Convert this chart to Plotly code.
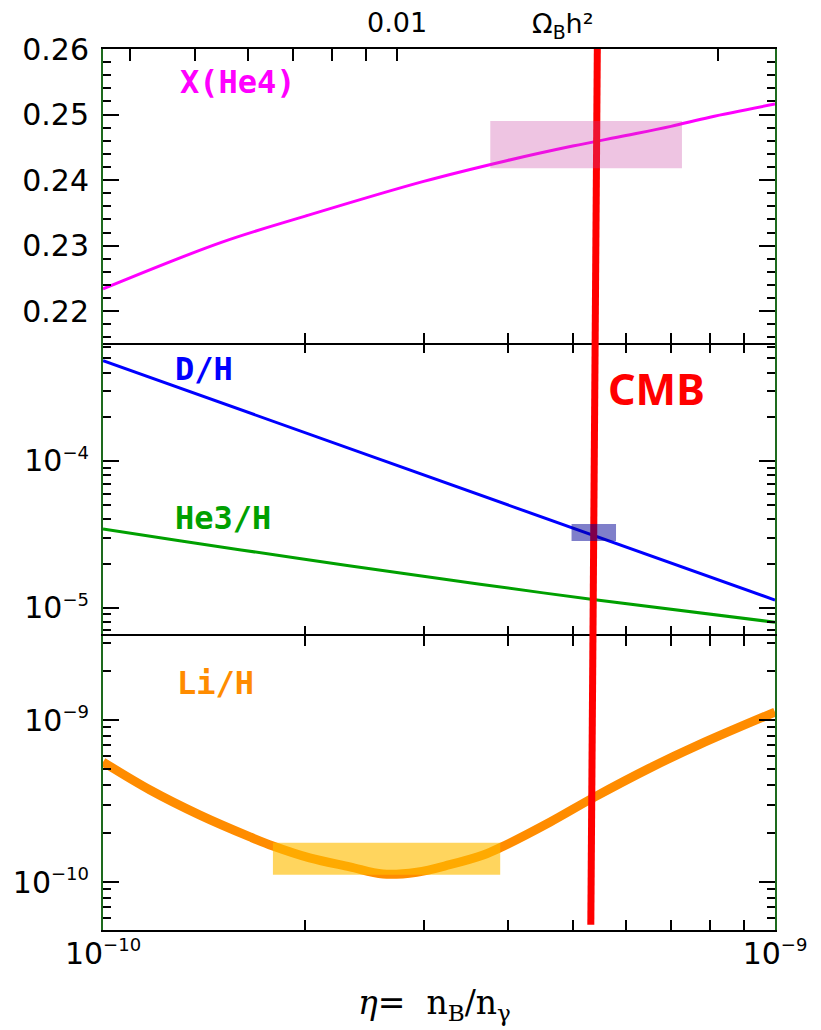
import plotly.graph_objects as go
from plotly.subplots import make_subplots

# ---------------- data (eta in units of 1e-10) ----------------
he4_eta = [1.0, 1.5, 2.0, 3.0, 4.0, 5.0, 6.0, 7.0, 8.0, 10.0]
he4_Y = [0.2234, 0.2305, 0.2345, 0.2398, 0.2430, 0.2452, 0.2468, 0.2482, 0.2496, 0.2516]

dh_eta = [1.0, 2.0, 3.0, 5.0, 7.0, 10.0]
dh_val = [4.82e-4, 1.556e-4, 8.04e-5, 3.49e-5, 2.02e-5, 1.127e-5]

he3_eta = [1.0, 1.30, 1.96, 2.77, 3.64, 5.36, 10.0]
he3_val = [3.44e-5, 2.86e-5, 2.163e-5, 1.722e-5, 1.445e-5, 1.138e-5, 7.96e-6]

li_eta = [1.0, 1.175, 1.394, 1.655, 1.79, 2.03, 2.33, 2.61, 2.93, 3.28, 3.68, 3.90,
          4.63, 5.36, 6.52, 7.74, 10.0]
li_val = [5.51e-10, 3.70e-10, 2.59e-10, 1.90e-10, 1.67e-10, 1.41e-10, 1.24e-10, 1.12e-10,
          1.15e-10, 1.28e-10, 1.47e-10, 1.63e-10, 2.35e-10, 3.31e-10, 5.07e-10, 7.10e-10, 1.12e-9]

# observational boxes
he4_box_eta = [3.77, 7.27]
he4_box_Y = [0.2418, 0.2490]
dh_box_eta = [4.98, 5.80]
dh_box_val = [2.85e-5, 3.72e-5]
li_box_eta = [1.79, 3.90]
li_box_val = [1.11e-10, 1.75e-10]

# CMB line (bottom, top)
cmb_eta = [5.32, 5.44]

# top axis: Omega_B h^2
omega_ticks = [0.004, 0.005, 0.006, 0.007, 0.008, 0.009, 0.01, 0.02, 0.03]
omega_labels = ["", "", "", "", "", "", "0.01", "", ""]
ETA10_PER_OMEGA = 273.9

# tick labels
SUP = "<sup><span style='font-size:18px'>{}</span></sup>"
he4_ticks = [0.22, 0.23, 0.24, 0.25, 0.26]
he4_ticklabels = ["0.22", "0.23", "0.24", "0.25", "0.26"]
mid_ticks = [1e-5, 1e-4]
mid_ticklabels = ["10" + SUP.format("−5"), "10" + SUP.format("−4")]
li_ticks = [1e-10, 1e-9]
li_ticklabels = ["10" + SUP.format("−10"), "10" + SUP.format("−9")]
x_ticks = [1e-10, 1e-9]
x_ticklabels = ["10" + SUP.format("−10"), "10" + SUP.format("−9")]

U = 1e-10


def sc(a):
    return [v * U for v in a]


fig = make_subplots(rows=3, cols=1, shared_xaxes=True, vertical_spacing=0)

# He4 curve drawn on the top (Omega) axis, which spans the same eta range
fig.add_trace(go.Scatter(x=sc(he4_eta), y=he4_Y, mode="lines", xaxis="x4", yaxis="y",
                         line=dict(color="#FF00FF", width=3, shape="spline"),
                         hoverinfo="skip", showlegend=False))
fig.add_trace(go.Scatter(x=sc(dh_eta), y=dh_val, mode="lines", line=dict(color="#0000FF", width=3),
                         hoverinfo="skip", showlegend=False), row=2, col=1)
fig.add_trace(go.Scatter(x=sc(he3_eta), y=he3_val, mode="lines",
                         line=dict(color="#00A000", width=3, shape="spline", smoothing=0.8),
                         hoverinfo="skip", showlegend=False), row=2, col=1)
fig.add_trace(go.Scatter(x=sc(li_eta), y=li_val, mode="lines",
                         line=dict(color="#FF8C00", width=9, shape="spline", smoothing=1.0),
                         hoverinfo="skip", showlegend=False), row=3, col=1)

# CMB line across all panels
fig.add_shape(type="line", xref="x3", yref="paper", x0=cmb_eta[0] * U, x1=cmb_eta[1] * U, y0=0.006, y1=1.0,
              line=dict(color="#FF0000", width=7), layer="above")
# boxes
fig.add_shape(type="rect", xref="x", yref="y", x0=he4_box_eta[0] * U, x1=he4_box_eta[1] * U,
              y0=he4_box_Y[0], y1=he4_box_Y[1], fillcolor="rgba(200,60,160,0.3)", line=dict(width=0), layer="above")
fig.add_shape(type="rect", xref="x2", yref="y2", x0=dh_box_eta[0] * U, x1=dh_box_eta[1] * U,
              y0=dh_box_val[0], y1=dh_box_val[1], fillcolor="rgba(0,0,150,0.5)", line=dict(width=0), layer="above")
fig.add_shape(type="rect", xref="x3", yref="y3", x0=li_box_eta[0] * U, x1=li_box_eta[1] * U,
              y0=li_box_val[0], y1=li_box_val[1], fillcolor="rgba(255,188,0,0.63)", line=dict(width=0), layer="above")

TICKFONT = dict(family="DejaVu Sans", size=30, color="black")
XLINE = "black"
YLINE = "#1d6b1d"
x_minor = [k * 1e-10 for k in range(2, 10)]

common_x = dict(type="log", range=[-10, -9], showgrid=False, zeroline=False, automargin=False,
                linecolor=XLINE, linewidth=2, ticks="inside", ticklen=10, tickwidth=2, tickcolor="black",
                tickmode="array", tickvals=x_ticks, ticktext=x_ticklabels,
                minor=dict(tickmode="array", tickvals=x_minor, ticks="inside", ticklen=10, tickwidth=2,
                           tickcolor="black"))

fig.update_xaxes(**common_x)
fig.update_xaxes(row=1, col=1, showline=True, mirror=False, showticklabels=False)
fig.update_xaxes(row=2, col=1, showline=False, mirror="ticks", showticklabels=False)
fig.update_xaxes(row=3, col=1, showline=True, mirror="ticks", showticklabels=True, tickfont=TICKFONT,
                 ticklabelstandoff=-4)

common_y = dict(showgrid=False, zeroline=False, showline=True, linecolor=YLINE, linewidth=2, mirror="ticks",
                ticks="inside", ticklen=16, tickwidth=2, tickcolor="black", tickfont=TICKFONT,
                tickmode="array", ticklabelstandoff=6, automargin=False)

he4_minor = [round(0.216 + 0.002 * i, 3) for i in range(0, 23)]
fig.update_yaxes(row=1, col=1, range=[0.2152, 0.26], tickvals=he4_ticks, ticktext=he4_ticklabels,
                 minor=dict(tickmode="array", tickvals=he4_minor, ticks="inside", ticklen=8, tickwidth=2,
                            tickcolor="black"),
                 **common_y)
mid_minor = [k * 10.0 ** e for e in (-6, -5, -4) for k in range(2, 10)]
fig.update_yaxes(row=2, col=1, type="log", range=[-5.195, -3.194], tickvals=mid_ticks, ticktext=mid_ticklabels,
                 minor=dict(tickmode="array", tickvals=mid_minor, ticks="inside", ticklen=8, tickwidth=2,
                            tickcolor="black"),
                 **common_y)
li_minor = [k * 10.0 ** e for e in (-11, -10, -9) for k in range(2, 10)]
fig.update_yaxes(row=3, col=1, type="log", range=[-10.296, -8.483], tickvals=li_ticks, ticktext=li_ticklabels,
                 minor=dict(tickmode="array", tickvals=li_minor, ticks="inside", ticklen=8, tickwidth=2,
                            tickcolor="black"),
                 **common_y)

# top axis in Omega_B h^2
fig.update_layout(xaxis4=dict(overlaying="x", anchor="y", side="top", type="log", range=[-10, -9],
                              showgrid=False, zeroline=False, showline=True, linecolor=XLINE, linewidth=2,
                              ticks="inside", ticklen=12, tickwidth=2, tickcolor="black", automargin=False,
                              tickmode="array", tickvals=[o * ETA10_PER_OMEGA * U for o in omega_ticks],
                              ticktext=omega_labels, tickfont=dict(family="DejaVu Sans", size=27, color="black"),
                              ticklabelstandoff=4))

ann = []


def txt(text, x, y, color, size, family, xanchor="left", yanchor="middle", bold=False):
    if bold:
        text = "<b>" + text + "</b>"
    ann.append(dict(text=text, x=x, y=y, xref="paper", yref="paper", showarrow=False, xanchor=xanchor,
                    yanchor=yanchor, font=dict(color=color, size=size, family=family)))


txt("X(He4)", 0.1116, 0.9625, "#FF00FF", 32, "DejaVu Sans Mono", bold=True)
txt("D/H", 0.104, 0.6368, "#0000FF", 32, "DejaVu Sans Mono", bold=True)
txt("He3/H", 0.104, 0.4677, "#00A000", 32, "DejaVu Sans Mono", bold=True)
txt("Li/H", 0.107, 0.2804, "#FF8C00", 32, "DejaVu Sans Mono", bold=True)
txt("CMB", 0.8244, 0.6141, "#FF0000", 43, "Noto Sans", xanchor="center", bold=True)
txt("Ω<sub>B</sub>h²", 0.6845, 1.0040, "black", 27, "DejaVu Sans", xanchor="center", yanchor="bottom")
txt("<i>η</i>=  n<sub>B</sub>/n<sub>γ</sub>", 0.4932, -0.0840, "black", 33, "DejaVu Serif", xanchor="center")

# the page body adds an 8px margin, so the figure is 8px smaller than the window
fig.update_layout(template="none", width=813, height=1022, margin=dict(l=95, r=46, t=41, b=100),
                  plot_bgcolor="white", paper_bgcolor="white", annotations=ann, showlegend=False)

fig.write_html("out.html")
